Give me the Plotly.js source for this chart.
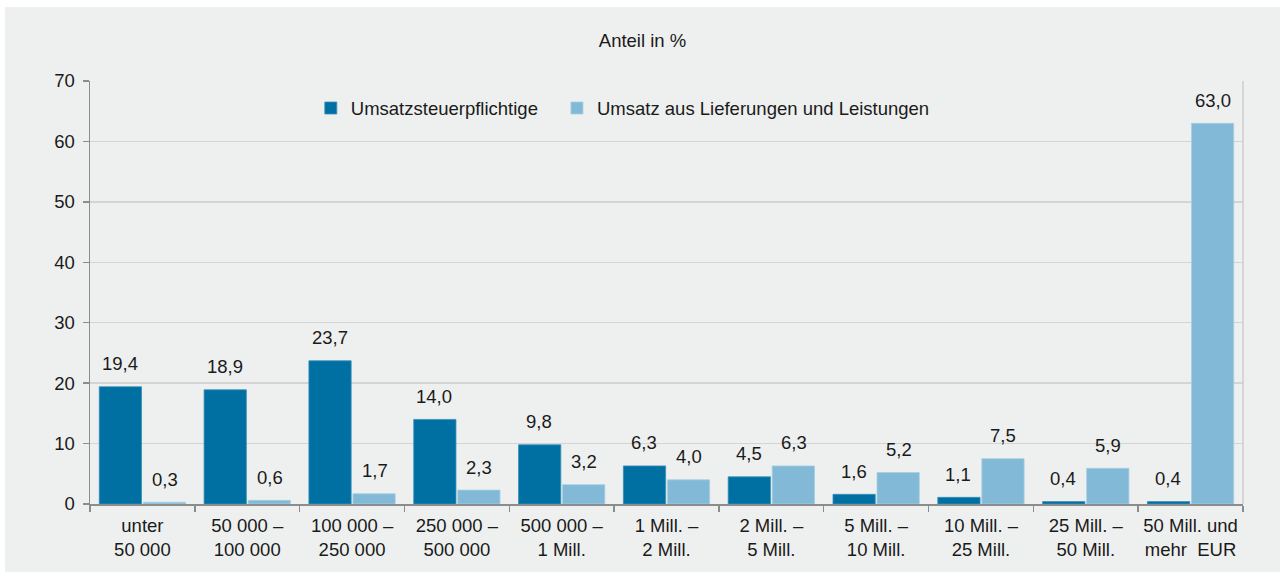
<!DOCTYPE html>
<html>
<head>
<meta charset="utf-8">
<script src="https://cdn.plot.ly/plotly-3.0.1.min.js"></script>
<style>
html,body{margin:0;padding:0;background:#ffffff;width:1285px;height:578px;overflow:hidden;}
#chart{position:absolute;left:5px;top:7px;width:1275px;height:565px;}
</style>
</head>
<body>
<div id="chart"></div>
<script>
const categories = ["unter<br>50 000","50 000 –<br>100 000","100 000 –<br>250 000","250 000 –<br>500 000","500 000 –<br>1 Mill.","1 Mill. –<br>2 Mill.","2 Mill. –<br>5 Mill.","5 Mill. –<br>10 Mill.","10 Mill. –<br>25 Mill.","25 Mill. –<br>50 Mill.","50 Mill. und<br>mehr  EUR"];
const steuerpflichtige = [19.4,18.9,23.7,14.0,9.8,6.3,4.5,1.6,1.1,0.4,0.4];
const umsatz = [0.3,0.6,1.7,2.3,3.2,4.0,6.3,5.2,7.5,5.9,63.0];
const seriesNames = ["Umsatzsteuerpflichtige","Umsatz aus Lieferungen und Leistungen"];
const yTicks = [0,10,20,30,40,50,60,70];

const fmt = v => v.toFixed(1).replace('.', ',');
const FONT = "Liberation Sans, Arial, sans-serif";
const FS = 18.5;

const traces = [
  {type:'bar', name:seriesNames[0], x:categories, y:steuerpflichtige, legend:'legend',
   marker:{color:'#0070a3', line:{color:'#3a8fb8', width:0.8}}, hoverinfo:'none'},
  {type:'bar', name:seriesNames[1], x:categories, y:umsatz, legend:'legend2',
   marker:{color:'#82b9d6', line:{color:'#a6cfe3', width:0.8}}, hoverinfo:'none'}
];

const annotations = [];
[steuerpflichtige, umsatz].forEach((arr, si) => {
  arr.forEach((v, i) => {
    annotations.push({x:categories[i], y:v, xref:'x', yref:'y', text:fmt(v),
      showarrow:false, xshift: si === 0 ? -22.5 : 22.5, yshift:23, yanchor:'middle',
      font:{family:FONT, size:FS, color:'#1a1a1a'}});
  });
});

const legendBase = {orientation:'h', xanchor:'left', y:0.935, yanchor:'middle',
  bgcolor:'rgba(0,0,0,0)', font:{family:FONT, size:FS, color:'#1a1a1a'}, itemwidth:30};

const layout = {
  width:1275, height:565,
  paper_bgcolor:'#eef0ef', plot_bgcolor:'#eef0ef',
  margin:{l:85, r:37, t:74, b:68},
  font:{family:FONT, size:FS, color:'#1a1a1a'},
  title:{text:'Anteil in %', x:0.5, xref:'container', xanchor:'center', y:1-34/565, yanchor:'middle',
         font:{family:FONT, size:FS, color:'#1a1a1a'}},
  barmode:'group', bargap:0.16, bargroupgap:0.04,
  showlegend:true,
  legend:Object.assign({}, legendBase, {x:0.1915}),
  legend2:Object.assign({}, legendBase, {x:0.405}),
  xaxis:{type:'category', showline:true, linecolor:'#8c8c8c', linewidth:1.5,
         ticks:'outside', tickson:'boundaries', ticklen:6, tickcolor:'#8c8c8c', tickwidth:1.5,
         ticklabelstandoff:4,
         showgrid:false, zeroline:false, tickfont:{family:FONT, size:FS, color:'#1a1a1a'},
         automargin:false},
  yaxis:{range:[0,70], tickvals:yTicks, showline:true, linecolor:'#8c8c8c', linewidth:1.5,
         ticks:'outside', ticklen:6, tickcolor:'#8c8c8c', tickwidth:1.5,
         ticklabelstandoff:4,
         showgrid:true, gridcolor:'#d4d4d4', gridwidth:1.3, zeroline:false,
         tickfont:{family:FONT, size:FS, color:'#1a1a1a'}, automargin:false},
  shapes:[{type:'line', xref:'paper', yref:'paper', x0:1, x1:1, y0:0, y1:1,
           line:{color:'#c8c8c8', width:1.3}}],
  annotations:annotations,
  hovermode:false
};

Plotly.newPlot('chart', traces, layout, {displayModeBar:false, staticPlot:true});
</script>
</body>
</html>
